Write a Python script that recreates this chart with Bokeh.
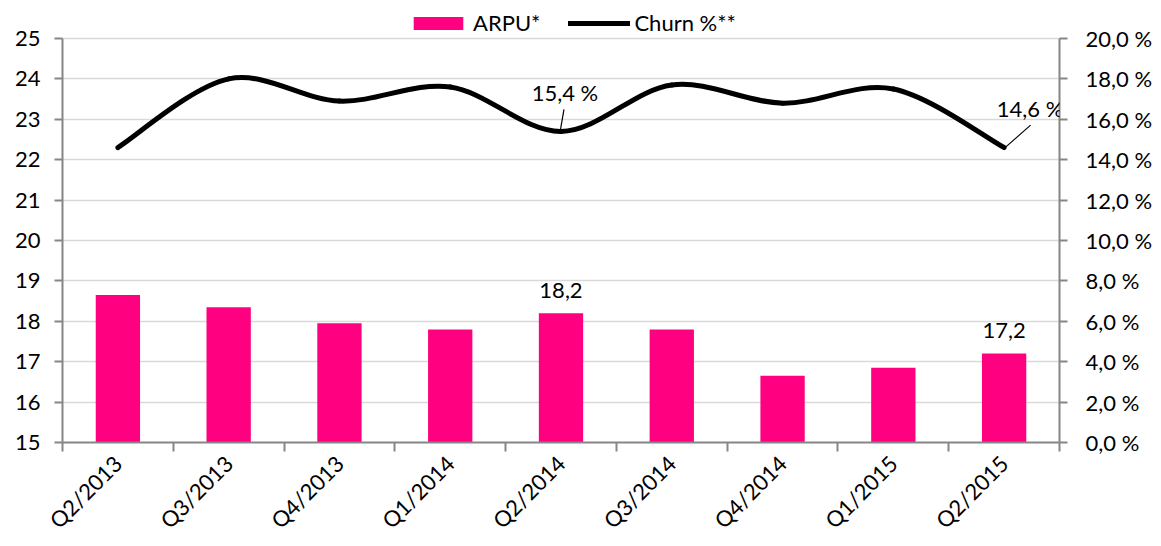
import math
from bokeh.plotting import figure
from bokeh.models import (Range1d, LinearAxis, FixedTicker, CustomJSTickFormatter,
                          Legend, LegendItem, ColumnDataSource, LabelSet)
from bokeh.core.properties import value
from bokeh.embed import file_html
from bokeh.resources import INLINE

# ---------------- data ----------------
quarters = ["Q2/2013", "Q3/2013", "Q4/2013", "Q1/2014", "Q2/2014",
            "Q3/2014", "Q4/2014", "Q1/2015", "Q2/2015"]
arpu = [18.65, 18.35, 17.95, 17.8, 18.2, 17.8, 16.65, 16.85, 17.2]
churn = [14.6, 18.0, 16.9, 17.6, 15.4, 17.7, 16.8, 17.5, 14.6]
arpu_labelled = [4, 8]
churn_labelled = [4, 8]
arpu_ticks = list(range(15, 26))
churn_ticks = list(range(0, 21, 2))

FONT = "Lato"
PINK = "#FF0080"
AXIS = "#868686"
GRID = "#d9d9d9"

# layout: plotting area 404 px tall for the axis span, plus 38 px headroom for the legend
AXIS_PX = 404.0
HEAD_PX = 38.0
a_lo, a_hi = arpu_ticks[0], arpu_ticks[-1]
c_lo, c_hi = churn_ticks[0], churn_ticks[-1]
a_extra = (a_hi - a_lo) * HEAD_PX / AXIS_PX
c_extra = (c_hi - c_lo) * HEAD_PX / AXIS_PX

xs = [i + 0.5 for i in range(len(quarters))]

p = figure(width=1161, height=546, x_range=Range1d(0, len(quarters)),
           y_range=Range1d(a_lo, a_hi + a_extra), output_backend="svg", toolbar_location=None,
           min_border_left=62, min_border_right=102, min_border_top=0,
           min_border_bottom=104)
p.extra_y_ranges = {"churn": Range1d(c_lo, c_hi + c_extra)}
p.outline_line_color = None
p.background_fill_color = "white"
p.border_fill_color = "white"

# x axis
xa = p.xaxis[0]
xa.ticker = FixedTicker(ticks=xs, minor_ticks=list(range(len(quarters) + 1)))
xa.major_label_overrides = {x: q for x, q in zip(xs, quarters)}
xa.major_tick_out = 0
xa.major_tick_in = 0
xa.minor_tick_out = 9
xa.minor_tick_in = 0
xa.minor_tick_line_color = AXIS
xa.minor_tick_line_width = 2
xa.axis_line_color = AXIS
xa.axis_line_width = 2
xa.major_label_orientation = math.pi / 4
xa.major_label_standoff = 8
xa.major_label_text_font = FONT
xa.major_label_text_font_size = "22px"
xa.major_label_text_color = "black"

# left axis
ya = p.yaxis[0]
ya.bounds = (a_lo, a_hi)
ya.ticker = FixedTicker(ticks=arpu_ticks)
ya.major_tick_out = 8
ya.major_tick_in = 0
ya.minor_tick_line_color = None
ya.major_tick_line_color = AXIS
ya.major_tick_line_width = 2
ya.axis_line_color = AXIS
ya.axis_line_width = 2
ya.major_label_standoff = 14
ya.major_label_text_font = FONT
ya.major_label_text_font_size = "22px"
ya.major_label_text_color = "black"

# right axis
ra = LinearAxis(y_range_name="churn", ticker=FixedTicker(ticks=churn_ticks), bounds=(c_lo, c_hi),
                formatter=CustomJSTickFormatter(code="return tick.toFixed(1).replace('.', ',') + ' %'"))
ra.major_tick_out = 8
ra.major_tick_in = 0
ra.minor_tick_line_color = None
ra.major_tick_line_color = AXIS
ra.major_tick_line_width = 2
ra.axis_line_color = AXIS
ra.axis_line_width = 2
ra.major_label_standoff = 18
ra.major_label_text_font = FONT
ra.major_label_text_font_size = "22px"
ra.major_label_text_color = "black"
p.add_layout(ra, "right")

p.xgrid.visible = False
p.ygrid.ticker = FixedTicker(ticks=arpu_ticks)
p.ygrid.grid_line_color = GRID
p.ygrid.grid_line_width = 1.5

# bars
bars = p.vbar(x=xs, top=arpu, bottom=a_lo, width=0.4, fill_color=PINK, line_color=None)

# smoothed churn line (Catmull-Rom -> cubic bezier)
n = len(churn)
x0, y0, x1, y1, cx0, cy0, cx1, cy1 = [], [], [], [], [], [], [], []
for i in range(n - 1):
    pxm = xs[max(i - 1, 0)]; pym = churn[max(i - 1, 0)]
    pxa = xs[i]; pya = churn[i]
    pxb = xs[i + 1]; pyb = churn[i + 1]
    pxp = xs[min(i + 2, n - 1)]; pyp = churn[min(i + 2, n - 1)]
    x0.append(pxa); y0.append(pya); x1.append(pxb); y1.append(pyb)
    cx0.append(pxa + (pxb - pxm) / 6.0); cy0.append(pya + (pyb - pym) / 6.0)
    cx1.append(pxb - (pxp - pxa) / 6.0); cy1.append(pyb - (pyp - pya) / 6.0)
curve = p.bezier(x0=x0, y0=y0, x1=x1, y1=y1, cx0=cx0, cy0=cy0, cx1=cx1, cy1=cy1,
                 line_color="black", line_width=5, line_cap="round",
                 y_range_name="churn")

# data labels for bars
bar_src = ColumnDataSource(dict(
    x=[xs[i] for i in arpu_labelled],
    y=[arpu[i] for i in arpu_labelled],
    t=[f"{arpu[i]:.1f}".replace(".", ",") for i in arpu_labelled]))
p.add_layout(LabelSet(source=bar_src, x="x", y="y", text="t", y_offset=23,
                      text_align="center", text_baseline="middle",
                      text_font=value(FONT), text_font_size="22px", text_color="black"))

# data labels for churn with leader lines
ch_x = [xs[i] for i in churn_labelled]
ch_y = [churn[i] for i in churn_labelled]
ch_t = [f"{churn[i]:.1f} %".replace(".", ",") for i in churn_labelled]
ch_dx = [4, 26]
p.add_layout(LabelSet(source=ColumnDataSource(dict(x=ch_x, y=ch_y, t=ch_t, dx=ch_dx)),
                      x="x", y="y", text="t", x_offset="dx", y_offset=39,
                      y_range_name="churn", text_align="center", text_baseline="middle",
                      text_font=value(FONT), text_font_size="22px", text_color="black"))
# leader lines (offsets converted from px: 110.8 px per category, 20.2 px per %)
lead_start = [(-0.5, 2), (1.5, 0.5)]
lead_end = [(3, 22), (26.5, 22.5)]
p.segment(x0=[x + a / 110.8 for x, (a, b) in zip(ch_x, lead_start)],
          y0=[y + b / 20.2 for y, (a, b) in zip(ch_y, lead_start)],
          x1=[x + a / 110.8 for x, (a, b) in zip(ch_x, lead_end)],
          y1=[y + b / 20.2 for y, (a, b) in zip(ch_y, lead_end)],
          line_color="black", line_width=1.2, y_range_name="churn")

legend = Legend(items=[LegendItem(label="ARPU*", renderers=[bars]),
                       LegendItem(label="Churn %**", renderers=[curve])],
                orientation="horizontal", location=(345, 406),
                glyph_width=62, glyph_height=16, label_standoff=4, spacing=28,
                padding=0, margin=0, border_line_alpha=0, background_fill_alpha=0,
                label_text_font=FONT, label_text_font_size="22px", label_text_color="black")
p.add_layout(legend, "center")

open("out.html", "w").write(file_html(p, INLINE))
